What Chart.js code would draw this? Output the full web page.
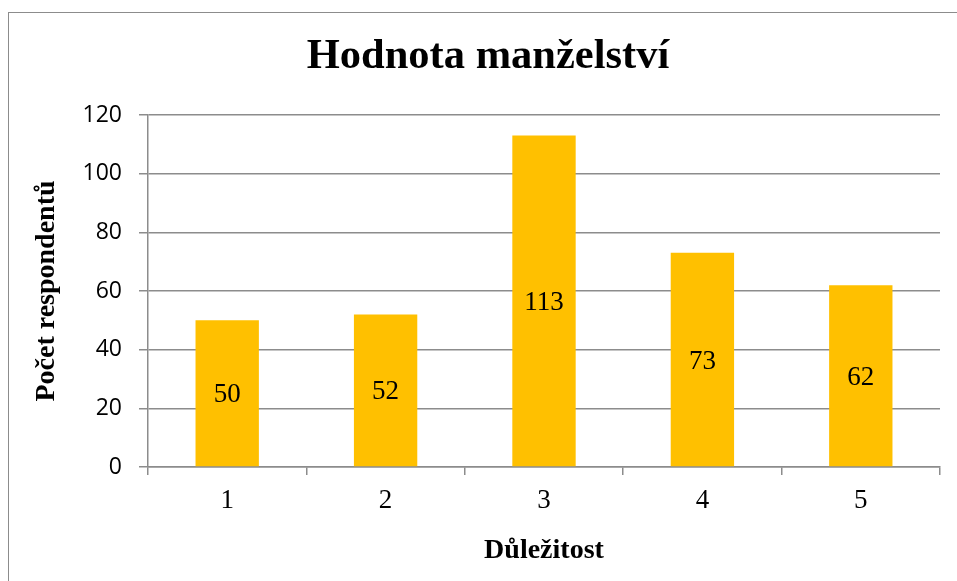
<!DOCTYPE html>
<html>
<head>
<meta charset="utf-8">
<script src="https://cdn.jsdelivr.net/npm/chart.js@4/dist/chart.umd.min.js"></script>
<style>
  html, body { margin: 0; padding: 0; background: #fff; overflow: hidden; }
  #wrap { position: relative; width: 957px; height: 581px; }
</style>
</head>
<body>
<div id="wrap"><canvas id="chart" width="957" height="581"></canvas></div>
<script>
const categories = ['1', '2', '3', '4', '5'];
const respondents = [50, 52, 113, 73, 62];
const yTicks = [0, 20, 40, 60, 80, 100, 120];

const chartTitle = 'Hodnota manželství';
const xTitle = 'Důležitost';
const yTitle = 'Počet respondentů';

const gridColor = '#8c8c8c';
const serif = '"Liberation Serif", "Times New Roman", serif';

// outer frame of the chart (runs off the right and bottom edge)
const framePlugin = {
  id: 'frame',
  beforeDraw(chart) {
    const ctx = chart.ctx;
    ctx.save();
    ctx.strokeStyle = '#8c8c8c';
    ctx.lineWidth = 1;
    ctx.strokeRect(8.5, 12.5, 1200, 1200);
    ctx.restore();
  }
};

// value labels in the middle of each bar
const valueLabels = {
  id: 'valueLabels',
  afterDatasetsDraw(chart) {
    const ctx = chart.ctx;
    const meta = chart.getDatasetMeta(0);
    ctx.save();
    ctx.font = '27px ' + serif;
    ctx.fillStyle = '#000';
    ctx.textAlign = 'center';
    ctx.textBaseline = 'middle';
    meta.data.forEach((bar, i) => {
      ctx.fillText(String(respondents[i]), bar.x, (bar.y + bar.base) / 2 + 2);
    });
    ctx.restore();
  }
};

new Chart(document.getElementById('chart'), {
  type: 'bar',
  data: {
    labels: categories,
    datasets: [{
      data: respondents,
      backgroundColor: '#FFC000',
      borderWidth: 0,
      categoryPercentage: 1,
      barPercentage: 0.4
    }]
  },
  options: {
    responsive: false,
    animation: false,
    layout: { padding: { left: 36, right: 17, top: 0, bottom: 0 } },
    plugins: {
      legend: { display: false },
      tooltip: { enabled: false },
      title: {
        display: true,
        text: chartTitle,
        color: '#000',
        font: { family: serif, size: 42.5, weight: 'bold', lineHeight: 1.2 },
        padding: { top: 32, bottom: 32 }
      }
    },
    scales: {
      x: {
        grid: {
          display: true,
          drawOnChartArea: false,
          drawTicks: true,
          tickLength: 8,
          color: gridColor,
          lineWidth: 1.5
        },
        border: { color: gridColor, width: 1.5 },
        ticks: {
          color: '#000',
          padding: 10,
          font: { family: serif, size: 27 }
        },
        title: {
          display: true,
          text: xTitle,
          color: '#000',
          font: { family: serif, size: 28, weight: 'bold', lineHeight: 1.2 },
          padding: { top: 0, bottom: 13 }
        },
        afterFit(axis) { axis.height = 114; }
      },
      y: {
        min: 0,
        max: 120,
        afterBuildTicks(axis) { axis.ticks = yTicks.map(v => ({ value: v })); },
        grid: {
          color: gridColor,
          lineWidth: 1.5,
          tickLength: 9
        },
        border: { color: gridColor, width: 1.5 },
        ticks: {
          color: '#000',
          padding: 17,
          font: { family: '"Open Sans", sans-serif', size: 23 }
        },
        title: {
          display: true,
          text: yTitle,
          color: '#000',
          font: { family: serif, size: 28, weight: 'bold', lineHeight: 0.8 },
          padding: { top: 0, bottom: 0 }
        },
        afterFit(axis) { axis.width = 112; }
      }
    }
  },
  plugins: [framePlugin, valueLabels]
});
</script>
</body>
</html>
